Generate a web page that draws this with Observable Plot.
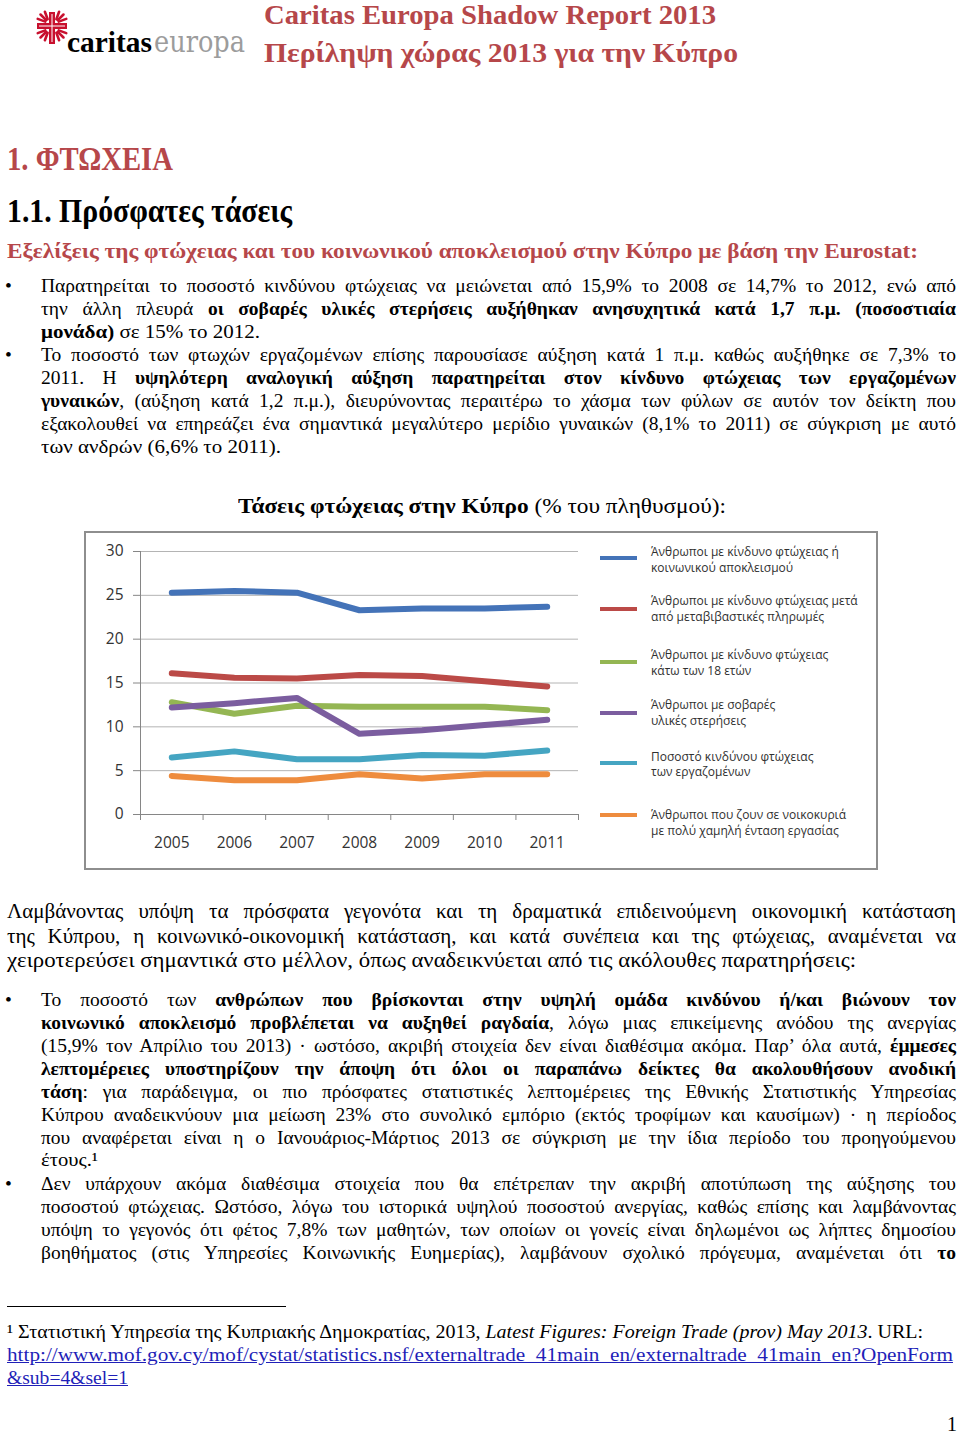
<!DOCTYPE html>
<html><head><meta charset="utf-8">
<script src="https://cdn.jsdelivr.net/npm/d3@7"></script>
<script src="https://cdn.jsdelivr.net/npm/@observablehq/plot@0.6"></script>
<style>
html,body{margin:0;padding:0;background:#fff;}
#page{position:relative;width:960px;height:1434px;overflow:hidden;font-family:"Liberation Serif",serif;color:#000;}
.ln{position:absolute;white-space:nowrap;line-height:1;}
.lg{position:absolute;white-space:nowrap;line-height:1;font-family:"Open Sans",sans-serif;font-size:12px;color:#303030;}
a{color:#1f1fb8;text-decoration:underline;}
</style></head>
<body><div id="page"></div>
<script>
// ---------- chart data ----------
const years = [2005, 2006, 2007, 2008, 2009, 2010, 2011];
const yTicks = [0, 5, 10, 15, 20, 25, 30];
const seriesLabels = [
  ["Άνθρωποι με κίνδυνο φτώχειας ή", "κοινωνικού αποκλεισμού"],
  ["Άνθρωποι με κίνδυνο φτώχειας μετά", "από μεταβιβαστικές πληρωμές"],
  ["Άνθρωποι με κίνδυνο φτώχειας", "κάτω των 18 ετών"],
  ["Άνθρωποι με σοβαρές", "υλικές στερήσεις"],
  ["Ποσοστό κινδύνου φτώχειας", "των εργαζομένων"],
  ["Άνθρωποι που ζουν σε νοικοκυριά", "με πολύ χαμηλή ένταση εργασίας"]
];
const atRiskOrExclusion   = [25.3, 25.5, 25.3, 23.3, 23.5, 23.5, 23.7];
const atRiskAfterTransfers = [16.1, 15.6, 15.5, 15.9, 15.8, 15.2, 14.6];
const atRiskUnder18       = [12.8, 11.5, 12.4, 12.3, 12.3, 12.3, 11.9];
const severeDeprivation   = [12.2, 12.7, 13.3, 9.2, 9.6, 10.2, 10.8];
const inWorkPoverty       = [6.5, 7.2, 6.3, 6.3, 6.8, 6.7, 7.3];
const lowWorkIntensity    = [4.4, 3.9, 3.9, 4.6, 4.1, 4.6, 4.6];
const seriesValues = [atRiskOrExclusion, atRiskAfterTransfers, atRiskUnder18, severeDeprivation, inWorkPoverty, lowWorkIntensity];
const seriesColors = ["#4473b8", "#bb4a47", "#94b653", "#7b5d9f", "#45a5c2", "#ee8c3e"];

// ---------- page helpers ----------
const RED = "#b6474a";
const page = document.getElementById("page");
function line(html, x, base, w, size, o = {}) {
  const d = document.createElement("div");
  d.className = "ln";
  d.innerHTML = html;
  d.style.left = x + "px";
  d.style.top = (base - 0.8375 * size) + "px";
  d.style.fontSize = size + "px";
  if (o.color) d.style.color = o.color;
  if (o.bold) d.style.fontWeight = "bold";
  if (o.font) d.style.fontFamily = o.font;
  if (w) d.dataset.w = w;
  if (o.j) d.dataset.j = "1";
  page.appendChild(d);
  return d;
}
function box(x, y, w, h, css) {
  const d = document.createElement("div");
  d.style.cssText = `position:absolute;left:${x}px;top:${y}px;width:${w}px;height:${h}px;` + css;
  page.appendChild(d);
  return d;
}

// ---------- header / logo ----------
const logo = document.createElementNS("http://www.w3.org/2000/svg", "svg");
logo.setAttribute("width", 34); logo.setAttribute("height", 36);
logo.style.cssText = "position:absolute;left:35px;top:10px;";
let lp = `<g stroke="#c8102e" stroke-linecap="round">`;
lp += `<rect x="14" y="2" width="6" height="32" fill="#c8102e" stroke="none"/>`;
lp += `<rect x="2" y="13" width="30" height="6" fill="#c8102e" stroke="none"/>`;
for (const [sx, sy] of [[1,1],[-1,1],[1,-1],[-1,-1]]) {
  for (const a of [20, 45, 70]) {
    const r = a * Math.PI / 180;
    const cx = 17 + sx * 3, cy = 16 + sy * 3;
    lp += `<line x1="${cx + sx*Math.cos(r)*4}" y1="${cy + sy*Math.sin(r)*4}" x2="${cx + sx*Math.cos(r)*12}" y2="${cy + sy*Math.sin(r)*12}" stroke-width="2.6"/>`;
  }
}
lp += `</g><line x1="17" y1="4" x2="17" y2="32" stroke="#fff" stroke-width="1"/><line x1="4" y1="16" x2="30" y2="16" stroke="#fff" stroke-width="1"/>`;
logo.innerHTML = lp;
page.appendChild(logo);
line("caritas", 67, 52, 85, 29, {bold: true});
line("europa", 154, 52, 91, 29, {color: "#9c9c9c", font: "'DejaVu Serif', serif"});

line("Caritas Europa Shadow Report 2013", 264, 25, 452, 27, {color: RED, bold: true});
line("Περίληψη χώρας 2013 για την Κύπρο", 264, 63, 474, 27, {color: RED, bold: true});

line("1. ΦΤΩΧΕΙΑ", 7, 170, 166, 34, {color: RED, bold: true});
line("1.1. Πρόσφατες τάσεις", 7, 222, 285, 34, {bold: true});
line("Εξελίξεις της φτώχειας και του κοινωνικού αποκλεισμού στην Κύπρο με βάση την Eurostat:", 7, 258, 911, 22, {color: RED, bold: true});

// ---------- bullets 1 ----------
const S = 19.5, L = 23;
const bulletA = [
  ["Παρατηρείται το ποσοστό κινδύνου φτώχειας να μειώνεται από 15,9% το 2008 σε 14,7% το 2012, ενώ από", 915, true],
  ["την άλλη πλευρά <b>οι σοβαρές υλικές στερήσεις αυξήθηκαν ανησυχητικά κατά 1,7 π.μ. (ποσοστιαία</b>", 915, true],
  ["<b>μονάδα)</b> σε 15% το 2012.", 219, false]
];
const bulletB = [
  ["Το ποσοστό των φτωχών εργαζομένων επίσης παρουσίασε αύξηση κατά 1 π.μ. καθώς αυξήθηκε σε 7,3% το", 915, true],
  ["2011. Η <b>υψηλότερη αναλογική αύξηση παρατηρείται στον κίνδυνο φτώχειας των εργαζομένων</b>", 915, true],
  ["<b>γυναικών</b>, (αύξηση κατά 1,2 π.μ.), διευρύνοντας περαιτέρω το χάσμα των φύλων σε αυτόν τον δείκτη που", 915, true],
  ["εξακολουθεί να επηρεάζει ένα σημαντικά μεγαλύτερο μερίδιο γυναικών (8,1% το 2011) σε σύγκριση με αυτό", 915, true],
  ["των ανδρών (6,6% το 2011).", 240, false]
];
function para(lines, x, base0, lh, size, bullet) {
  if (bullet) line("•", 5, base0, 0, size);
  lines.forEach(([h, w, j], i) => line(h, x, base0 + i * lh, w, size, {j}));
}
para(bulletA, 41, 292, L, S, true);
para(bulletB, 41, 292 + 3 * L, L, S, true);

// ---------- chart title ----------
line("<b>Τάσεις φτώχειας στην Κύπρο</b> (% του πληθυσμού):", 238, 514, 488, 21);

// ---------- chart ----------
box(84, 531, 794, 339, "box-sizing:border-box;border:2px solid #8e8e8e;background:#fff;");
const rows = seriesValues.flatMap((vals, i) =>
  years.map((yr, j) => ({year: yr, value: vals[j], series: seriesLabels[i].join(" ")})));
const xLo = years[0] - 0.5, xHi = years[years.length - 1] + 0.5;
const bounds = [xLo, ...years.map(y => y + 0.5)];
const chart = Plot.plot({
  width: 794, height: 339,
  marginLeft: 56, marginRight: 300, marginTop: 20, marginBottom: 56,
  x: {type: "linear", domain: [xLo, xHi], label: null},
  y: {domain: [0, 30], label: null},
  color: {domain: seriesLabels.map(d => d.join(" ")), range: seriesColors},
  style: {fontFamily: "'Open Sans', sans-serif", fontSize: "15.5px", color: "#333", background: "transparent", overflow: "visible"},
  marks: [
    Plot.gridY(yTicks.filter(t => t > 0), {stroke: "#b4b4b4", strokeOpacity: 1}),
    Plot.ruleY([0], {stroke: "#868686"}),
    Plot.ruleX([xLo], {stroke: "#868686"}),
    Plot.axisY(yTicks, {tickSize: 7, tickPadding: 10, stroke: "#868686"}),
    Plot.axisX(bounds, {tickSize: 6, tickFormat: () => "", stroke: "#868686"}),
    Plot.axisX(years, {tickSize: 0, tickPadding: 22, tickFormat: d => String(d)}),
    Plot.lineY(rows, {x: "year", y: "value", z: "series", stroke: "series", strokeWidth: 6, strokeLinecap: "round", strokeLinejoin: "round"})
  ]
});
chart.style.position = "absolute";
chart.style.left = "84px";
chart.style.top = "531px";
page.appendChild(chart);

// legend
const swY = [558, 609, 662, 713, 763, 815];
const txB = [557, 606, 660, 710, 761.5, 820];
seriesLabels.forEach((lab, i) => {
  box(600, swY[i] - 2, 37, 4, `background:${seriesColors[i]};`);
  lab.forEach((t, k) => {
    const d = document.createElement("div");
    d.className = "lg";
    d.textContent = t;
    d.style.left = "651px";
    d.style.top = (txB[i] + k * 15.5 - 0.888 * 12) + "px";
    page.appendChild(d);
  });
});

// ---------- paragraph after chart ----------
const paraC = [
  ["Λαμβάνοντας υπόψη τα πρόσφατα γεγονότα και τη δραματικά επιδεινούμενη οικονομική κατάσταση", 949, true],
  ["της Κύπρου, η κοινωνικό-οικονομική κατάσταση, και κατά συνέπεια και της φτώχειας, αναμένεται να", 949, true],
  ["χειροτερεύσει σημαντικά στο μέλλον, όπως αναδεικνύεται από τις ακόλουθες παρατηρήσεις:", 849, false]
];
para(paraC, 7, 919, 24.5, 21, false);

const bulletD = [
  ["Το ποσοστό των <b>ανθρώπων που βρίσκονται στην υψηλή ομάδα κινδύνου ή/και βιώνουν τον</b>", 915, true],
  ["<b>κοινωνικό αποκλεισμό προβλέπεται να αυξηθεί ραγδαία</b>, λόγω μιας επικείμενης ανόδου της ανεργίας", 915, true],
  ["(15,9% τον Απρίλιο του 2013) · ωστόσο, ακριβή στοιχεία δεν είναι διαθέσιμα ακόμα. Παρ’ όλα αυτά, <b>έμμεσες</b>", 915, true],
  ["<b>λεπτομέρειες υποστηρίζουν την άποψη ότι όλοι οι παραπάνω δείκτες θα ακολουθήσουν ανοδική</b>", 915, true],
  ["<b>τάση</b>: για παράδειγμα, οι πιο πρόσφατες στατιστικές λεπτομέρειες της Εθνικής Στατιστικής Υπηρεσίας", 915, true],
  ["Κύπρου αναδεικνύουν μια μείωση 23% στο συνολικό εμπόριο (εκτός τροφίμων και καυσίμων) · η περίοδος", 915, true],
  ["που αναφέρεται είναι η ο Ιανουάριος-Μάρτιος 2013 σε σύγκριση με την ίδια περίοδο του προηγούμενου", 915, true],
  ["έτους.¹", 57, false]
];
const bulletE = [
  ["Δεν υπάρχουν ακόμα διαθέσιμα στοιχεία που θα επέτρεπαν την ακριβή αποτύπωση της αύξησης του", 915, true],
  ["ποσοστού φτώχειας. Ωστόσο, λόγω του ιστορικά υψηλού ποσοστού ανεργίας, καθώς επίσης και λαμβάνοντας", 915, true],
  ["υπόψη το γεγονός ότι φέτος 7,8% των μαθητών, των οποίων οι γονείς είναι δηλωμένοι ως λήπτες δημοσίου", 915, true],
  ["βοηθήματος (στις Υπηρεσίες Κοινωνικής Ευημερίας), λαμβάνουν σχολικό πρόγευμα, αναμένεται ότι <b>το</b>", 915, true]
];
para(bulletD, 41, 1006.5, 22.9, S, true);
para(bulletE, 41, 1190, 23, S, true);

// ---------- footnote ----------
box(7, 1306, 279, 1, "background:#000;");
line("¹ Στατιστική Υπηρεσία της Κυπριακής Δημοκρατίας, 2013, <i>Latest Figures: Foreign Trade (prov) May 2013</i>. URL:", 7, 1338, 916, 19);
line('<a>http://www.mof.gov.cy/mof/cystat/statistics.nsf/externaltrade_41main_en/externaltrade_41main_en?OpenForm</a>', 7, 1361, 946, 19);
line('<a>&amp;sub=4&amp;sel=1</a>', 7, 1384, 121, 19);
line("1", 947, 1431, 0, 20);

// ---------- fit lines to measured widths ----------
function fitAll() {
  document.querySelectorAll(".ln[data-w]").forEach(el => {
    const target = +el.dataset.w;
    const w = el.getBoundingClientRect().width;
    const n = el.textContent.replace(/\s+/g, " ").trim().split(" ").length - 1;
    if (el.dataset.j && w < target && n > 0) {
      el.style.wordSpacing = ((target - w) / n) + "px";
    } else {
      el.style.transformOrigin = "0 0";
      el.style.transform = `scaleX(${target / w})`;
    }
  });
}
if (document.fonts && document.fonts.ready) document.fonts.ready.then(fitAll); else fitAll();
</script>
</body></html>
